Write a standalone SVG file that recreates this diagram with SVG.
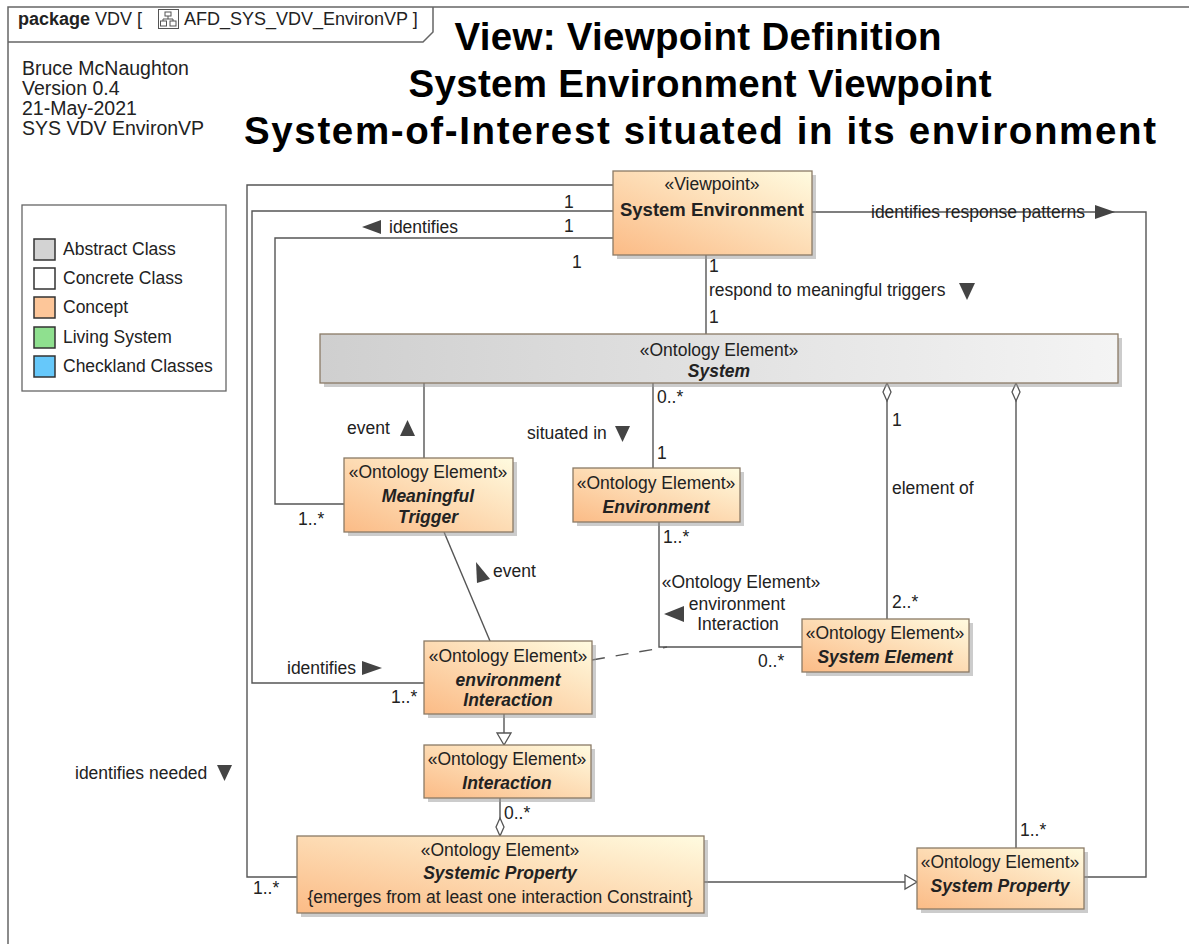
<svg xmlns="http://www.w3.org/2000/svg" width="1189" height="944" viewBox="0 0 1189 944">
  <style>
    text { font-family: "Liberation Sans", Arial, sans-serif; font-size: 17.5px; fill: #222; }
    .b { font-weight: bold; }
    .bi { font-weight: bold; font-style: italic; }
    .c { text-anchor: middle; }
    .title { font-size: 38.5px; font-weight: bold; fill: #000; text-anchor: middle; }
    .tab { font-size: 18px; }
    .meta { font-size: 19.5px; }
    .frame { fill: none; stroke: #666; stroke-width: 1.5; }
    .node { stroke: #8a7a66; stroke-width: 1.3; }
    .shadow { fill: #9a9a9a; opacity: 0.5; }
    .line { fill: none; stroke: #555; stroke-width: 1.4; }
    .dash { stroke-dasharray: 13 11; }
    .dir { fill: #444; }
    .sw { stroke: #333; stroke-width: 1.5; }
  </style>
  <defs>
    <linearGradient id="concept" x1="0" y1="1" x2="1" y2="0">
      <stop offset="0" stop-color="#fbbb86"/>
      <stop offset="1" stop-color="#fffbe0"/>
    </linearGradient>
    <linearGradient id="abstract" x1="0" y1="0" x2="1" y2="0">
      <stop offset="0" stop-color="#cfcfcf"/>
      <stop offset="1" stop-color="#f4f4f4"/>
    </linearGradient>
    <!-- hollow generalization head -->
    <marker id="gen" markerUnits="userSpaceOnUse" markerWidth="16" markerHeight="18" refX="13" refY="8" orient="auto">
      <path d="M1,1 L13,8 L1,15 z" fill="#fff" stroke="#555" stroke-width="1.3"/>
    </marker>
    <!-- hollow aggregation diamond -->
    <marker id="agg" markerUnits="userSpaceOnUse" markerWidth="22" markerHeight="12" refX="1" refY="5" orient="auto">
      <path d="M1,5 L10,1 L19,5 L10,9 z" fill="#fff" stroke="#555" stroke-width="1.3"/>
    </marker>
  </defs>

  <rect width="1189" height="944" fill="#fff"/>

  <!-- package frame and name tab -->
  <g id="frame">
    <path class="frame" d="M8,960 V7 H1200"/>
    <path class="frame" d="M8,42 H423 L433,32 V7"/>
    <text x="18" y="25" class="b tab">package</text>
    <text x="95" y="25" class="tab">VDV [</text>
    <g transform="translate(158,9)" fill="none" stroke="#555" stroke-width="1">
      <rect x="0.5" y="0.5" width="20" height="19"/>
      <rect x="7" y="3" width="6" height="4"/>
      <path d="M10,7 V10 M5,10 H15 M5,10 V12 M15,10 V12"/>
      <rect x="2.5" y="12" width="6" height="5"/>
      <rect x="12" y="12" width="6" height="5"/>
    </g>
    <text x="184" y="25" class="tab">AFD_SYS_VDV_EnvironVP ]</text>
  </g>

  <!-- title block -->
  <g id="title">
    <text class="title" x="698" y="50" textLength="487" lengthAdjust="spacing">View: Viewpoint Definition</text>
    <text class="title" x="700" y="97" textLength="583" lengthAdjust="spacing">System Environment Viewpoint</text>
    <text class="title" x="700" y="144" textLength="912" lengthAdjust="spacing">System-of-Interest situated in its environment</text>
  </g>

  <g id="author">
    <text class="meta" x="22" y="75">Bruce McNaughton</text>
    <text class="meta" x="22" y="95">Version 0.4</text>
    <text class="meta" x="22" y="115">21-May-2021</text>
    <text class="meta" x="22" y="135">SYS VDV EnvironVP</text>
  </g>

  <!-- legend -->
  <g id="legend">
    <rect x="22" y="205" width="204" height="186" fill="#fff" stroke="#666" stroke-width="1.3"/>
    <rect class="sw" x="34" y="239" width="21" height="21" fill="#d3d3d3"/>
    <text x="63" y="255">Abstract Class</text>
    <rect class="sw" x="34" y="268" width="21" height="21" fill="#ffffff"/>
    <text x="63" y="284">Concrete Class</text>
    <rect class="sw" x="34" y="297" width="21" height="21" fill="#fdc699"/>
    <text x="63" y="313">Concept</text>
    <rect class="sw" x="34" y="327" width="21" height="21" fill="#8fe08f"/>
    <text x="63" y="343">Living System</text>
    <rect class="sw" x="34" y="356" width="21" height="21" fill="#66c8fa"/>
    <text x="63" y="372">Checkland Classes</text>
  </g>

  <!-- connectors -->
  <g id="connectors">
    <!-- System Environment identifies needed Systemic Property -->
    <path class="line" d="M613,185 H247 V877 H297"/>
    <!-- System Environment identifies environment Interaction -->
    <path class="line" d="M613,211 H252 V683 H424"/>
    <!-- System Environment identifies Meaningful Trigger -->
    <path class="line" d="M613,238 H275 V504 H344"/>
    <!-- identifies response patterns -->
    <path class="line" d="M812,212 H1146 V877 H1084"/>
    <!-- respond to meaningful triggers -->
    <path class="line" d="M706,255 V334"/>
    <!-- event -->
    <path class="line" d="M424,383 V458"/>
    <!-- situated in -->
    <path class="line" d="M653,383 V468"/>
    <!-- element of -->
    <path class="line" d="M887,383 V619" marker-start="url(#agg)"/>
    <!-- System aggregates System Property -->
    <path class="line" d="M1016,383 V848" marker-start="url(#agg)"/>
    <!-- Environment to System Element association -->
    <path class="line" d="M659,522 V647 H802"/>
    <!-- association class link -->
    <path class="line dash" d="M592,660 L667,647"/>
    <!-- Meaningful Trigger event -->
    <path class="line" d="M444,532 L490,641"/>
    <!-- environment Interaction specialises Interaction -->
    <path class="line" d="M504,714 V745" marker-end="url(#gen)"/>
    <!-- Systemic Property aggregates Interaction -->
    <path class="line" d="M500,836 V798" marker-start="url(#agg)"/>
    <!-- Systemic Property specialises System Property -->
    <path class="line" d="M704,882 H917" marker-end="url(#gen)"/>

    <!-- labels and multiplicities -->
    <text x="564" y="208">1</text>
    <text x="564" y="232">1</text>
    <text x="572" y="268">1</text>
    <polygon class="dir" points="362,227 381,220 381,234"/>
    <text x="389" y="233">identifies</text>
    <text x="871" y="218">identifies response patterns</text>
    <polygon class="dir" points="1095,205 1115,212 1095,219"/>
    <text x="709" y="272">1</text>
    <text x="709" y="296">respond to meaningful triggers</text>
    <polygon class="dir" points="959,283 975,283 967,300"/>
    <text x="709" y="323">1</text>
    <text x="347" y="434">event</text>
    <polygon class="dir" points="400,436 415,436 407.5,420"/>
    <text x="527" y="439">situated in</text>
    <polygon class="dir" points="615,426 630,426 622.5,442"/>
    <text x="657" y="403">0..*</text>
    <text x="657" y="459">1</text>
    <text x="892" y="426">1</text>
    <text x="892" y="494">element of</text>
    <text x="892" y="608">2..*</text>
    <text x="1020" y="836">1..*</text>
    <text x="298" y="525">1..*</text>
    <text x="663" y="543">1..*</text>
    <text class="c" x="741" y="588">«Ontology Element»</text>
    <text class="c" x="737" y="610">environment</text>
    <text class="c" x="738" y="630">Interaction</text>
    <polygon class="dir" points="664,614 684,606 684,622"/>
    <text x="758" y="667">0..*</text>
    <polygon class="dir" points="476,562 490,579 477,583"/>
    <text x="493" y="577">event</text>
    <text x="287" y="674">identifies</text>
    <polygon class="dir" points="362,661 382,668 362,675"/>
    <text x="391" y="703">1..*</text>
    <text x="504" y="819">0..*</text>
    <text x="75" y="779">identifies needed</text>
    <polygon class="dir" points="217,765 232,765 224.5,781"/>
    <text x="253" y="894">1..*</text>
  </g>

  <!-- nodes -->
  <g id="system-environment">
    <rect class="shadow" x="617" y="175" width="199" height="84"/>
    <rect class="node" x="613" y="171" width="199" height="84" fill="url(#concept)"/>
    <text class="c" x="712" y="190">«Viewpoint»</text>
    <text class="c b" x="712" y="216" style="font-size:18.5px">System Environment</text>
  </g>

  <g id="system">
    <rect class="shadow" x="324" y="338" width="798" height="49"/>
    <rect class="node" x="320" y="334" width="798" height="49" fill="url(#abstract)"/>
    <text class="c" x="719" y="356">«Ontology Element»</text>
    <text class="c bi" x="719" y="377">System</text>
  </g>

  <g id="meaningful-trigger">
    <rect class="shadow" x="348" y="462" width="169" height="74"/>
    <rect class="node" x="344" y="458" width="169" height="74" fill="url(#concept)"/>
    <text class="c" x="428" y="478">«Ontology Element»</text>
    <text class="c bi" x="428" y="502">Meaningful</text>
    <text class="c bi" x="428" y="523">Trigger</text>
  </g>

  <g id="environment">
    <rect class="shadow" x="577" y="472" width="167" height="54"/>
    <rect class="node" x="573" y="468" width="167" height="54" fill="url(#concept)"/>
    <text class="c" x="656" y="489">«Ontology Element»</text>
    <text class="c bi" x="656" y="513">Environment</text>
  </g>

  <g id="system-element">
    <rect class="shadow" x="806" y="623" width="167" height="53"/>
    <rect class="node" x="802" y="619" width="167" height="53" fill="url(#concept)"/>
    <text class="c" x="885" y="639">«Ontology Element»</text>
    <text class="c bi" x="885" y="663">System Element</text>
  </g>

  <g id="environment-interaction">
    <rect class="shadow" x="428" y="645" width="168" height="73"/>
    <rect class="node" x="424" y="641" width="168" height="73" fill="url(#concept)"/>
    <text class="c" x="508" y="662">«Ontology Element»</text>
    <text class="c bi" x="508" y="686">environment</text>
    <text class="c bi" x="508" y="706">Interaction</text>
  </g>

  <g id="interaction">
    <rect class="shadow" x="428" y="749" width="167" height="53"/>
    <rect class="node" x="424" y="745" width="167" height="53" fill="url(#concept)"/>
    <text class="c" x="507" y="765">«Ontology Element»</text>
    <text class="c bi" x="507" y="789">Interaction</text>
  </g>

  <g id="systemic-property">
    <rect class="shadow" x="301" y="840" width="407" height="77"/>
    <rect class="node" x="297" y="836" width="407" height="77" fill="url(#concept)"/>
    <text class="c" x="500" y="856">«Ontology Element»</text>
    <text class="c bi" x="500" y="879">Systemic Property</text>
    <text class="c" x="500" y="903">{emerges from at least one interaction Constraint}</text>
  </g>

  <g id="system-property">
    <rect class="shadow" x="921" y="852" width="167" height="61"/>
    <rect class="node" x="917" y="848" width="167" height="61" fill="url(#concept)"/>
    <text class="c" x="1000" y="868">«Ontology Element»</text>
    <text class="c bi" x="1000" y="892">System Property</text>
  </g>
</svg>
